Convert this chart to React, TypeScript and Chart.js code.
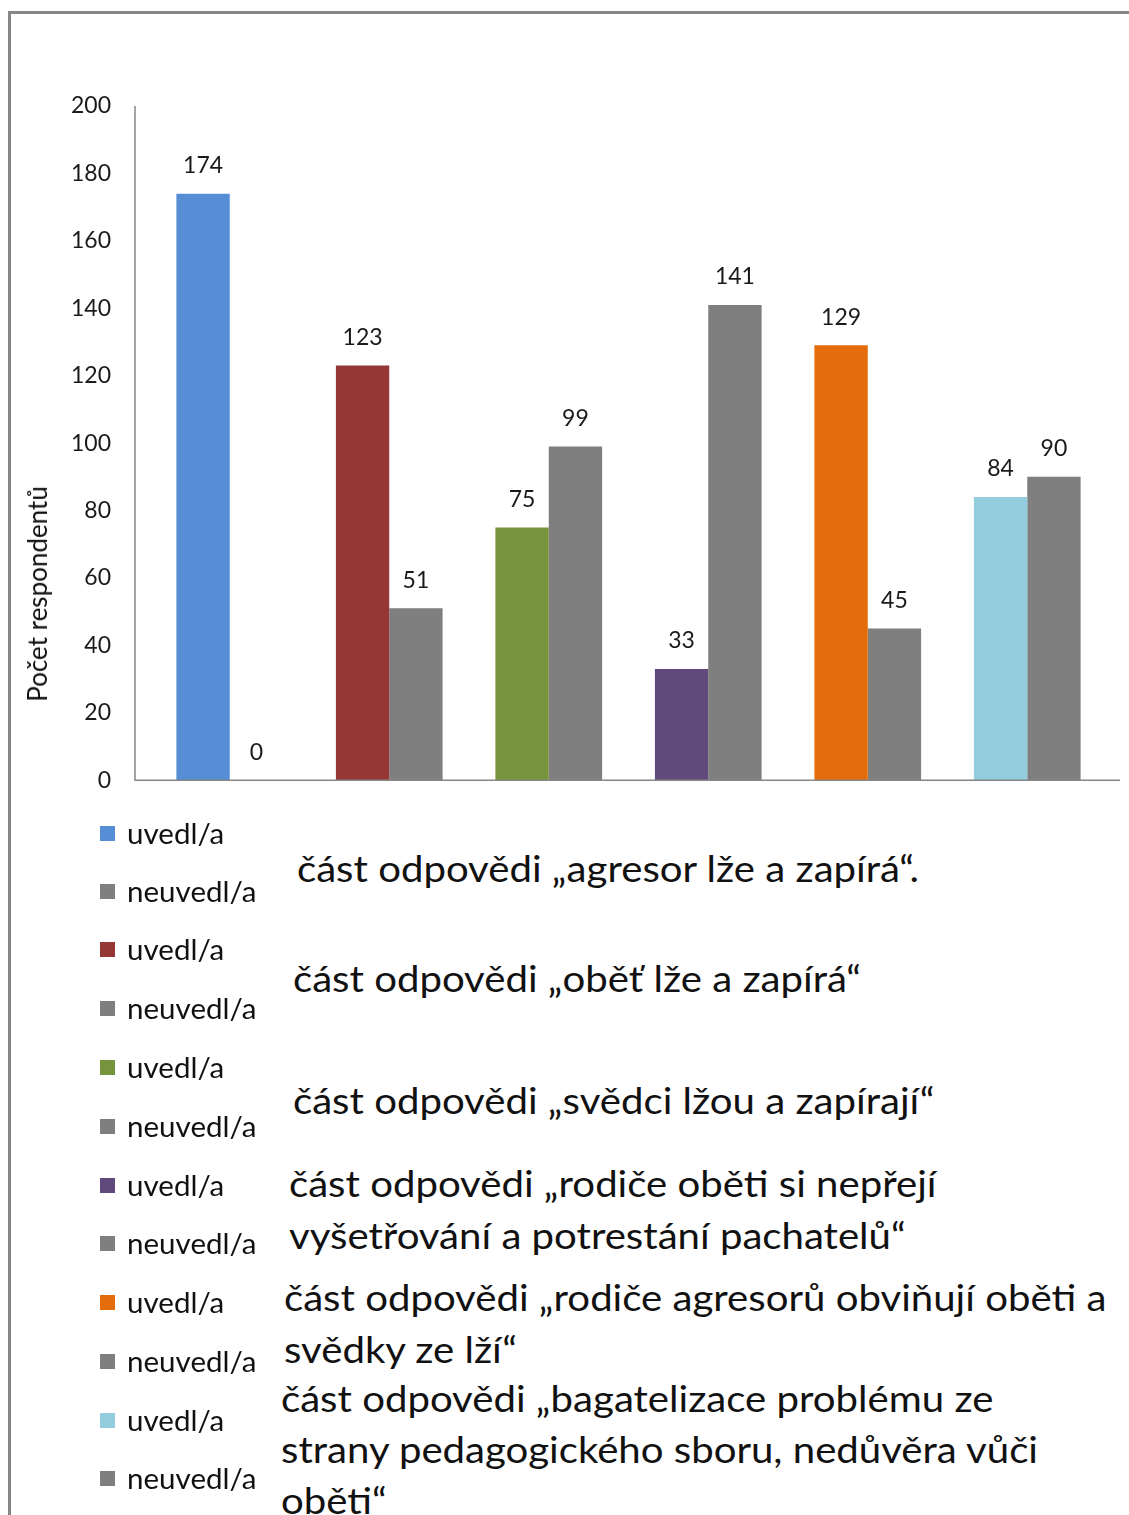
import React, { useEffect, useRef } from "react";
import { Chart, registerables } from "chart.js";

Chart.register(...registerables);

const categories = [
  "agresor lže a zapírá",
  "oběť lže a zapírá",
  "svědci lžou a zapírají",
  "rodiče oběti si nepřejí vyšetřování",
  "rodiče agresorů obviňují",
  "bagatelizace problému",
];
const seriesNames = ["uvedl/a", "neuvedl/a"];
const uvedlValues = [174, 123, 75, 33, 129, 84];
const neuvedlValues = [0, 51, 99, 141, 45, 90];
const uvedlColors = ["#558ED5", "#953735", "#77933C", "#604A7B", "#E46C0A", "#93CDDD"];
const neuvedlColor = "#7F7F7F";
const yTicks = { min: 0, max: 200, step: 20 };
const yTitle = "Počet respondentů";
const annotations = [
  ["část odpovědi „agresor lže a zapírá“."],
  ["část odpovědi „oběť lže a zapírá“"],
  ["část odpovědi „svědci lžou a zapírají“"],
  ["část odpovědi „rodiče oběti si nepřejí", "vyšetřování a potrestání pachatelů“"],
  ["část odpovědi „rodiče agresorů obviňují oběti a", "svědky ze lží“"],
  ["část odpovědi „bagatelizace problému ze", "strany pedagogického sboru, nedůvěra vůči", "oběti“"],
];

const FONT = "Lato, 'Open Sans', sans-serif";
const annoPos = [
  { x: 297, y: [868] },
  { x: 293, y: [978] },
  { x: 293, y: [1100] },
  { x: 289, y: [1183, 1235] },
  { x: 284, y: [1297, 1349] },
  { x: 281, y: [1398, 1449, 1500] },
];
const legendY = [833, 891, 949, 1008, 1067, 1126, 1185, 1243, 1302, 1361, 1420, 1478];

const axesPlugin = {
  id: "axesLines",
  afterDatasetsDraw(chart: any) {
    const { ctx, scales } = chart;
    const y = scales.y;
    const y0 = y.getPixelForValue(0);
    const yTop = y.getPixelForValue(yTicks.max);
    ctx.save();
    ctx.strokeStyle = "#868686";
    ctx.lineWidth = 1.5;
    ctx.beginPath();
    ctx.moveTo(135, yTop);
    ctx.lineTo(135, y0);
    ctx.lineTo(1120, y0);
    ctx.stroke();
    ctx.restore();
  },
};

const labelsPlugin = {
  id: "valueLabels",
  afterDatasetsDraw(chart: any) {
    const { ctx } = chart;
    ctx.save();
    ctx.font = `23px ${FONT}`;
    ctx.fillStyle = "#1a1a1a";
    ctx.textAlign = "center";
    ctx.textBaseline = "middle";
    chart.data.datasets.forEach((ds: any, di: number) => {
      const meta = chart.getDatasetMeta(di);
      meta.data.forEach((bar: any, i: number) => {
        ctx.fillText(String(ds.data[i]), bar.x, bar.y - 28);
      });
    });
    ctx.restore();
  },
};

export default function App() {
  const canvasRef = useRef<HTMLCanvasElement | null>(null);

  useEffect(() => {
    if (!canvasRef.current) return;
    const chart = new Chart(canvasRef.current, {
      type: "bar",
      data: {
        labels: categories,
        datasets: [
          {
            label: seriesNames[0],
            data: uvedlValues,
            backgroundColor: uvedlColors,
            categoryPercentage: 0.669,
            barPercentage: 1,
          },
          {
            label: seriesNames[1],
            data: neuvedlValues,
            backgroundColor: neuvedlColor,
            categoryPercentage: 0.669,
            barPercentage: 1,
          },
        ],
      },
      options: {
        animation: false,
        responsive: false,
        maintainAspectRatio: false,
        layout: { padding: { left: 0, right: 22, top: 106, bottom: 20 } },
        plugins: { legend: { display: false }, tooltip: { enabled: false } },
        scales: {
          x: { display: false },
          y: {
            min: yTicks.min,
            max: yTicks.max,
            afterFit: (s: any) => {
              s.width = 150;
            },
            ticks: {
              stepSize: yTicks.step,
              padding: 39,
              color: "#1a1a1a",
              font: { family: FONT, size: 23 },
            },
            grid: { display: false, drawTicks: false },
            border: { display: false },
          },
        },
      },
      plugins: [axesPlugin, labelsPlugin],
    });
    return () => chart.destroy();
  }, []);

  const legendItems: { color: string; text: string }[] = [];
  categories.forEach((_, i) => {
    legendItems.push({ color: uvedlColors[i], text: seriesNames[0] });
    legendItems.push({ color: neuvedlColor, text: seriesNames[1] });
  });

  return (
    <div
      style={{
        position: "absolute",
        left: 0,
        top: 0,
        width: 1129,
        height: 1515,
        overflow: "hidden",
        background: "#fff",
        fontFamily: FONT,
        color: "#111",
      }}
    >
      <div
        style={{
          position: "absolute",
          left: 8,
          top: 11,
          width: 1129 - 8,
          height: 1515 - 11,
          borderTop: "3px solid #878787",
          borderLeft: "3px solid #878787",
          boxSizing: "border-box",
        }}
      />
      <canvas
        ref={canvasRef}
        width={1129}
        height={833}
        style={{ position: "absolute", left: 0, top: 0, width: 1129, height: 833 }}
      />
      <div
        style={{
          position: "absolute",
          left: 37,
          top: 594,
          transform: "translate(-50%, -50%) rotate(-90deg)",
          fontSize: 26,
          whiteSpace: "nowrap",
          lineHeight: "30px",
        }}
      >
        {yTitle}
      </div>
      {legendItems.map((it, k) => (
        <div
          key={k}
          style={{
            position: "absolute",
            left: 100,
            top: legendY[k] - 18,
            height: 36,
            display: "flex",
            alignItems: "center",
            whiteSpace: "nowrap",
            fontSize: 28,
          }}
        >
          <span
            style={{ display: "inline-block", width: 15, height: 15, background: it.color, marginRight: 12 }}
          />
          <span style={{ display: "inline-block", transform: "scaleX(1.055)", transformOrigin: "left center" }}>
            {it.text}
          </span>
        </div>
      ))}
      {annotations.map((lines, i) =>
        lines.map((line, j) => (
          <div
            key={`${i}-${j}`}
            style={{
              position: "absolute",
              left: annoPos[i].x,
              top: annoPos[i].y[j] - 25,
              height: 50,
              lineHeight: "50px",
              fontSize: 36,
              whiteSpace: "nowrap",
              transform: "scaleX(1.115)",
              transformOrigin: "left center",
            }}
          >
            {line}
          </div>
        ))
      )}
    </div>
  );
}
